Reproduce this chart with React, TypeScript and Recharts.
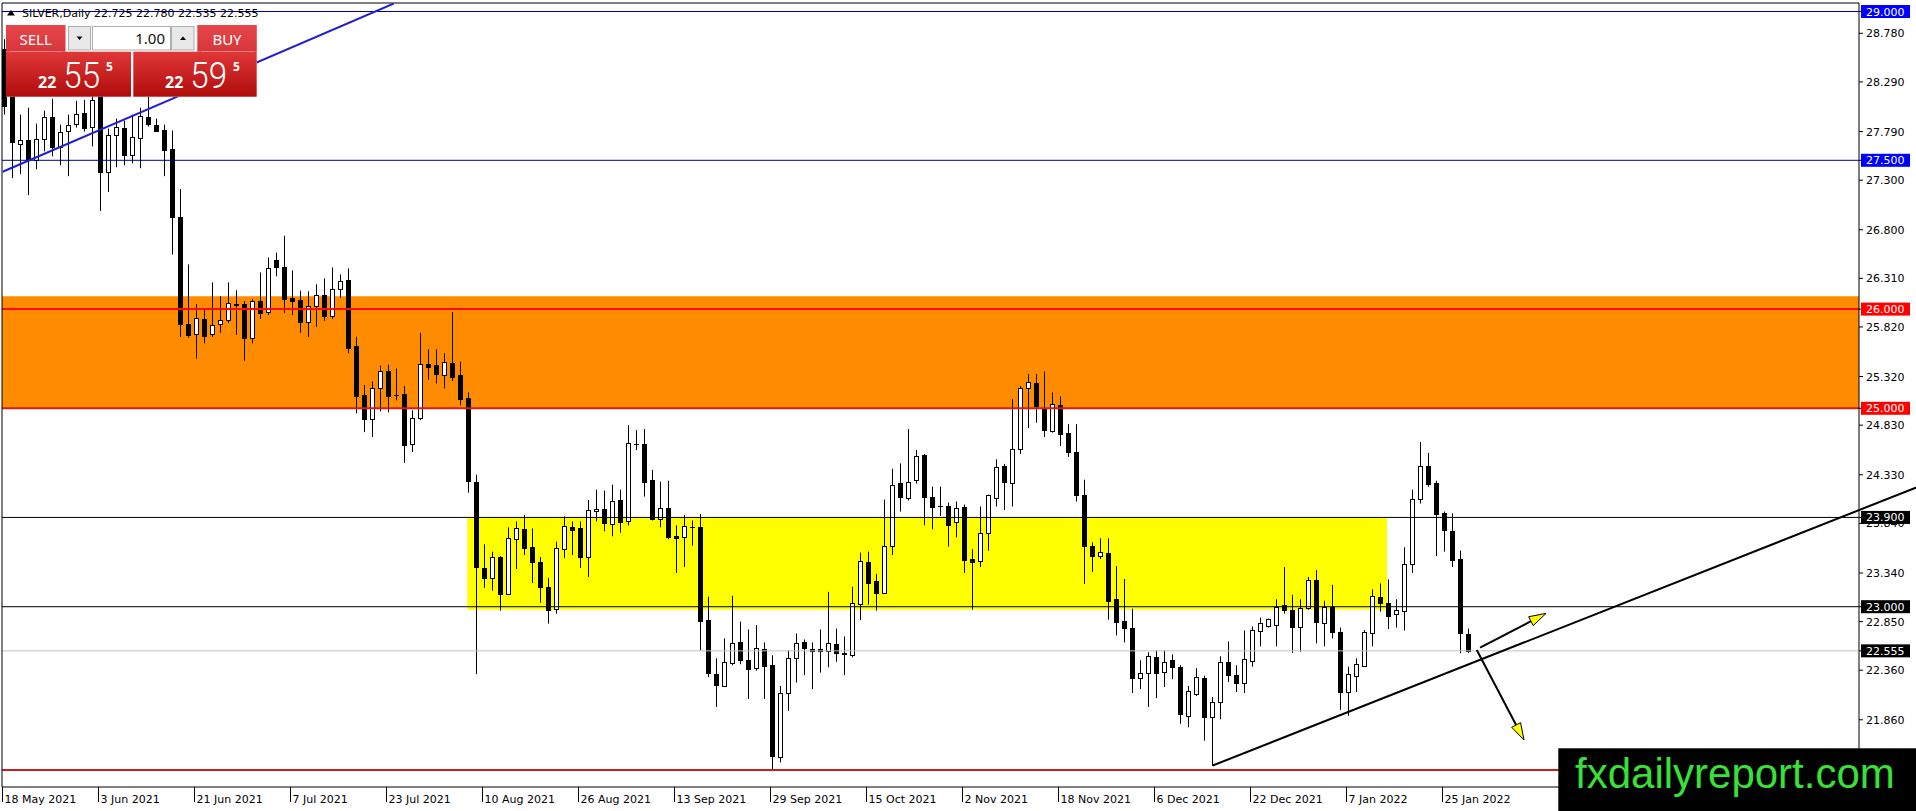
import { Bar, ComposedChart, ReferenceArea, ReferenceLine, XAxis, YAxis } from 'recharts';

// SILVER daily candles, one entry per trading day starting 18 May 2021
const OPEN = [
  28.62, 28.3, 27.66, 27.7, 27.5, 27.71, 27.94, 27.63, 27.8, 27.87,
  27.98, 27.84, 28.15, 27.385, 27.755, 27.83, 27.55, 27.72, 27.94, 27.855,
  27.81, 27.61, 26.925, 25.85, 25.745, 25.9, 25.745, 25.85, 25.89, 26.04,
  26.05, 25.71, 26.08, 25.97, 26.5, 26.42, 26.11, 26.09, 25.87, 26.03,
  26.14, 25.93, 26.2, 26.29, 25.63, 25.13, 24.89, 25.2, 25.38, 25.13,
  25.14, 24.64, 24.9, 25.45, 25.44, 25.34, 25.46, 25.34, 25.1, 24.26,
  23.395, 23.29, 23.5, 23.125, 23.68, 23.78, 23.6, 23.455, 23.195, 22.98,
  23.58, 23.8, 23.79, 23.5, 23.96, 23.98, 23.83, 24.08, 23.86, 24.645,
  24.64, 24.28, 23.88, 24.0, 23.71, 23.7, 23.8, 23.8, 22.865, 22.32,
  22.2, 22.43, 22.64, 22.46, 22.38, 22.57, 22.41, 21.48, 22.13, 22.48,
  22.64, 22.57, 22.57, 22.55, 22.62, 22.53, 22.51, 23.03, 23.455, 23.26,
  23.14, 23.615, 24.245, 24.1, 24.28, 24.53, 24.11, 24.02, 24.02, 23.85,
  24.01, 23.48, 23.46, 23.74, 24.1, 24.42, 24.25, 24.59, 25.2, 25.26,
  25.0, 24.775, 25.03, 24.75, 24.56, 24.13, 23.61, 23.515, 23.54, 23.075,
  22.855, 22.79, 22.28, 22.33, 22.49, 22.34, 22.46, 22.395, 21.9, 22.12,
  22.285, 21.885, 22.04, 22.44, 22.31, 22.23, 22.455, 22.76, 22.81, 22.82,
  23.02, 22.97, 22.795, 22.985, 23.27, 22.84, 23.0, 22.75, 22.14, 22.305,
  22.405, 22.73, 23.1, 23.04, 22.925, 22.96, 23.43, 24.09, 24.42, 24.25,
  23.94, 23.76, 23.48, 22.725,
];
const HIGH = [
  28.72, 28.45, 27.96, 28.03, 27.87, 28.0, 28.12, 27.86, 27.96, 28.1,
  28.11, 28.2, 28.25, 27.82, 27.92, 27.9, 27.96, 28.03, 28.14, 27.92,
  27.86, 27.8, 27.21, 26.45, 26.05, 25.99, 26.27, 26.13, 26.27, 26.19,
  26.08, 26.1, 26.37, 26.52, 26.57, 26.74, 26.39, 26.185, 26.18, 26.25,
  26.31, 26.42, 26.35, 26.41, 25.72, 25.235, 25.27, 25.43, 25.44, 25.4,
  25.225, 24.98, 25.76, 25.595, 25.595, 25.555, 25.97, 25.47, 25.16, 24.33,
  23.63, 23.555, 23.51, 23.8, 23.86, 23.925, 23.79, 23.5, 23.29, 23.655,
  23.91, 23.86, 23.86, 24.075, 24.18, 24.17, 24.23, 24.18, 24.83, 24.78,
  24.79, 24.38, 24.26, 24.27, 23.82, 23.925, 23.87, 23.935, 23.1, 22.48,
  22.68, 23.11, 22.85, 22.77, 22.815, 22.64, 22.51, 22.2, 22.56, 22.73,
  22.67, 22.64, 22.77, 23.15, 22.78, 22.7, 23.2, 23.545, 23.555, 23.33,
  24.08, 24.39, 24.445, 24.79, 24.58, 24.54, 24.21, 24.21, 24.05, 24.06,
  24.03, 23.58, 24.01, 24.13, 24.485, 24.44, 25.09, 25.225, 25.345, 25.345,
  25.37, 25.16, 25.12, 24.84, 24.84, 24.28, 23.65, 23.69, 23.69, 23.41,
  23.28, 22.98, 22.46, 22.54, 22.56, 22.56, 22.52, 22.41, 22.2, 22.38,
  22.305, 22.09, 22.5, 22.65, 22.41, 22.76, 22.8, 22.89, 22.88, 23.075,
  23.4, 23.12, 23.075, 23.3, 23.37, 23.06, 23.22, 22.79, 22.395, 22.48,
  22.765, 23.175, 23.235, 23.275, 23.075, 23.6, 24.18, 24.66, 24.55, 24.27,
  23.96, 23.94, 23.565, 22.78,
];
const LOW = [
  27.96, 27.32, 27.36, 27.15, 27.41, 27.59, 27.54, 27.45, 27.34, 27.83,
  27.79, 27.64, 26.99, 27.18, 27.43, 27.45, 27.47, 27.42, 27.84, 27.79,
  27.34, 26.55, 25.72, 25.71, 25.5, 25.655, 25.72, 25.76, 25.86, 25.74,
  25.48, 25.655, 25.9, 25.94, 26.33, 25.96, 25.94, 25.76, 25.72, 25.82,
  25.88, 25.9, 26.115, 25.555, 24.95, 24.76, 24.71, 24.97, 24.96, 25.08,
  24.45, 24.56, 24.88, 25.29, 25.25, 25.2, 25.275, 25.03, 24.15, 22.32,
  23.19, 23.16, 22.96, 23.12, 23.38, 23.52, 23.24, 23.04, 22.83, 22.93,
  23.49, 23.52, 23.39, 23.3, 23.86, 23.76, 23.71, 23.745, 23.82, 24.58,
  24.11, 23.87, 23.8, 23.68, 23.34, 23.4, 23.615, 22.56, 22.29, 21.99,
  22.19, 22.41, 22.42, 22.07, 22.355, 22.07, 21.36, 21.43, 21.95, 22.235,
  22.31, 22.17, 22.335, 22.39, 22.445, 22.31, 22.49, 22.865, 23.02, 22.96,
  23.13, 23.52, 23.96, 24.07, 24.24, 23.82, 23.78, 23.915, 23.605, 23.7,
  23.34, 22.97, 23.4, 23.565, 24.01, 23.975, 24.01, 24.54, 24.8, 24.855,
  24.71, 24.755, 24.62, 24.51, 24.06, 23.23, 23.35, 23.48, 22.87, 22.71,
  22.64, 22.13, 22.17, 21.99, 22.08, 22.19, 22.27, 21.82, 21.785, 22.1,
  21.65, 21.395, 21.865, 22.24, 22.14, 22.13, 22.395, 22.6, 22.79, 22.6,
  22.93, 22.535, 22.545, 22.97, 22.63, 22.6, 22.68, 21.96, 21.9, 22.14,
  22.4, 22.6, 22.95, 22.775, 22.79, 22.76, 23.34, 24.04, 24.21, 23.51,
  23.555, 23.4, 22.53, 22.535,
];
const CLOSE = [
  28.05, 27.68, 27.7, 27.5, 27.71, 27.94, 27.63, 27.79, 27.86, 27.97,
  27.83, 28.11, 27.385, 27.755, 27.84, 27.55, 27.73, 27.95, 27.87, 27.8,
  27.6, 26.93, 25.85, 25.74, 25.91, 25.73, 25.84, 25.89, 26.06, 26.05,
  25.71, 26.08, 25.96, 26.41, 26.42, 26.1, 26.085, 25.87, 26.03, 26.14,
  25.93, 26.2, 26.28, 25.61, 25.12, 24.89, 25.2, 25.38, 25.12, 25.135,
  24.63, 24.9, 25.45, 25.42, 25.35, 25.47, 25.32, 25.09, 24.27, 23.4,
  23.29, 23.5, 23.13, 23.69, 23.79, 23.59, 23.455, 23.195, 22.97, 23.59,
  23.81, 23.77, 23.5, 23.97, 23.98, 23.84, 24.07, 23.85, 24.65, 24.645,
  24.26, 23.88, 23.99, 23.7, 23.69, 23.81, 23.8, 22.86, 22.335, 22.21,
  22.44, 22.63, 22.46, 22.37, 22.58, 22.405, 21.49, 22.13, 22.48, 22.63,
  22.58, 22.555, 22.55, 22.63, 22.53, 22.52, 23.04, 23.46, 23.24, 23.14,
  23.61, 24.23, 24.11, 24.255, 24.52, 24.11, 24.01, 24.015, 23.82, 24.0,
  23.47, 23.455, 23.74, 24.125, 24.405, 24.26, 24.59, 25.2, 25.27, 25.02,
  24.78, 25.04, 24.74, 24.56, 24.13, 23.615, 23.515, 23.55, 23.06, 22.85,
  22.79, 22.28, 22.335, 22.5, 22.33, 22.445, 22.39, 21.915, 22.15, 22.29,
  21.89, 22.04, 22.44, 22.31, 22.23, 22.475, 22.765, 22.835, 22.88, 23.0,
  22.97, 22.795, 22.985, 23.27, 22.85, 23.0, 22.75, 22.14, 22.32, 22.42,
  22.75, 23.11, 23.04, 22.905, 22.97, 23.43, 24.09, 24.42, 24.24, 23.935,
  23.77, 23.47, 22.73, 22.555,
];

// time axis: a label every 12 bars
const DATE_TICKS = [0, 12, 24, 36, 48, 60, 72, 84, 96, 108, 120, 132, 144, 156, 168, 180];
const DATE_LABELS = [
  '18 May 2021', '3 Jun 2021', '21 Jun 2021', '7 Jul 2021', '23 Jul 2021', '10 Aug 2021',
  '26 Aug 2021', '13 Sep 2021', '29 Sep 2021', '15 Oct 2021', '2 Nov 2021', '18 Nov 2021',
  '6 Dec 2021', '22 Dec 2021', '7 Jan 2022', '25 Jan 2022',
];

// price axis
const PRICE_TICKS = [28.78, 28.29, 27.79, 27.3, 26.8, 26.31, 25.82, 25.32, 24.83, 24.33, 23.84, 23.34, 22.85, 22.36, 21.86];
const MARK_PRICES = [29, 27.5, 26, 25, 23.9, 23, 22.555];
const MARK_BG = ['#0000ff', '#0000ff', '#ff0000', '#ff0000', '#000000', '#000000', '#000000'];

// horizontal levels drawn on the chart
const LEVEL_PRICES = [29, 27.5, 26, 25, 23.9, 23, 22.555, 21.355];
const LEVEL_COLORS = ['#000090', '#000090', '#ff0a0a', '#d41c1c', '#000000', '#000000', '#c0c0c0', '#c42020'];
const LEVEL_WIDTHS = [1, 1, 2, 2, 1, 1, 1, 2];

// zones
const ORANGE_ZONE = [25.0, 26.13];
const YELLOW_ZONE = { x: [58, 172.96], y: [22.97, 23.9] };

// trend lines and arrows: [bar, price] pairs
const BLUE_TREND = [[-0.08, 27.385], [48.8, 29.08]];
const BLACK_TREND = [[151.17, 21.399], [240, 24.23]];
const ARROW_UP = [[184.6, 22.587], [192.84, 22.933]];
const ARROW_DOWN = [[184.18, 22.563], [190.09, 21.656]];

const X_DOMAIN = [-0.16, 231.96];
const Y_DOMAIN = [21.1825, 29.0857];

const AXIS_FONT = '"DejaVu Sans", Tahoma, sans-serif';

const rows = OPEN.map((o, i) => ({
  i,
  open: o,
  high: HIGH[i],
  low: LOW[i],
  close: CLOSE[i],
  range: [LOW[i], HIGH[i]],
}));

function Candle(props: any) {
  const { x, y, width, height, payload } = props;
  if (!payload || x == null) return null;
  const { open, high, low, close } = payload;
  const top = Math.min(y, y + height);
  const span = Math.abs(height);
  const per = high > low ? span / (high - low) : 0;
  const py = (v: number) => top + (high - v) * per;
  const cx = Math.round(x + width / 2) + 0.5;
  const yo = py(open);
  const yc = py(close);
  const bt = Math.round(Math.min(yo, yc));
  const bb = Math.round(Math.max(yo, yc));
  const bull = close > open;
  return (
    <g>
      <line x1={cx} x2={cx} y1={top} y2={top + span} stroke="#000" strokeWidth={1} />
      {bb - bt < 1 ? (
        <line x1={cx - 2.5} x2={cx + 2.5} y1={bt + 0.5} y2={bt + 0.5} stroke="#000" strokeWidth={1} />
      ) : (
        <rect x={cx - 2} y={bt + 0.5} width={4} height={bb - bt} fill={bull ? '#fff' : '#000'} stroke="#000" strokeWidth={1} />
      )}
    </g>
  );
}

function PriceTick(props: any) {
  const { x, y, payload } = props;
  const v = payload.value as number;
  const mi = MARK_PRICES.indexOf(v);
  const label = v.toFixed(3);
  if (mi >= 0) {
    return (
      <g>
        <rect x={x - 5} y={y - 6.5} width={49} height={13} fill={MARK_BG[mi]} />
        <text x={x} y={y + 4} fill="#fff" fontSize={11} fontFamily={AXIS_FONT}>
          {label}
        </text>
      </g>
    );
  }
  return (
    <text x={x} y={y + 4} fill="#000" fontSize={11} fontFamily={AXIS_FONT}>
      {label}
    </text>
  );
}

function DateTick(props: any) {
  const { x, y, payload } = props;
  const idx = DATE_TICKS.indexOf(payload.value);
  const px = Math.round(x - 1.5) + 0.5;
  return (
    <g>
      <line x1={px} x2={px} y1={y} y2={y + 15} stroke="#000" strokeWidth={1} />
      <text x={px + 2} y={y + 15.5} fill="#000" fontSize={11} fontFamily={AXIS_FONT}>
        {DATE_LABELS[idx]}
      </text>
    </g>
  );
}

function Arrow(props: any) {
  const { x1, y1, x2, y2 } = props;
  const dx = x2 - x1;
  const dy = y2 - y1;
  const len = Math.hypot(dx, dy) || 1;
  const ux = dx / len;
  const uy = dy / len;
  const hl = 17;
  const hw = 5;
  const bx = x2 - ux * hl;
  const by = y2 - uy * hl;
  const nx = -uy * hw;
  const ny = ux * hw;
  return (
    <g>
      <line x1={x1} y1={y1} x2={bx} y2={by} stroke="#000" strokeWidth={2} />
      <polygon points={`${x2},${y2} ${bx + nx},${by + ny} ${bx - nx},${by - ny}`} fill="#ffff00" stroke="#000" strokeWidth={1} />
    </g>
  );
}

const seg = (p: number[][]) => [
  { x: p[0][0], y: p[0][1] },
  { x: p[1][0], y: p[1][1] },
];

function TradePanel() {
  const pill = (x: number, label: string) => (
    <g>
      <rect x={x} y={25} width={59.5} height={26.7} fill="url(#btnRed)" />
      <line x1={x + 4} x2={x + 55.5} y1={51.5} y2={51.5} stroke="#f2a3a3" strokeWidth={1} />
      <text x={x + 29.7} y={44.5} textAnchor="middle" fill="#fff" fontSize={15} fontFamily='"Noto Sans", sans-serif'>
        {label}
      </text>
    </g>
  );
  const bigBox = (x: number, w: number, big: string, sx: number) => (
    <g>
      <rect x={x} y={51.7} width={w} height={45} fill="url(#boxRed)" />
      <text x={sx} y={87.5} fill="#fff" fontSize={16} fontWeight="bold" fontFamily='"Noto Sans", sans-serif'>
        22
      </text>
      <text
        x={sx + 25.3}
        y={87.5}
        fill="#fff"
        fontSize={37}
        fontWeight={300}
        fontFamily='Roboto, "Noto Sans", sans-serif'
        textLength={36.7}
        lengthAdjust="spacingAndGlyphs"
      >
        {big}
      </text>
      <text x={sx + 68} y={70.5} fill="#fff" fontSize={12} fontWeight="bold" fontFamily='"Noto Sans", sans-serif'>
        5
      </text>
    </g>
  );
  return (
    <svg width={1916} height={811} style={{ position: 'absolute', left: 0, top: 0, pointerEvents: 'none' }}>
      <defs>
        <linearGradient id="btnRed" x1="0" y1="0" x2="0" y2="1">
          <stop offset="0" stopColor="#e6474b" />
          <stop offset="1" stopColor="#d7363a" />
        </linearGradient>
        <linearGradient id="boxRed" x1="0" y1="0" x2="0" y2="1">
          <stop offset="0" stopColor="#e03737" />
          <stop offset="1" stopColor="#b00c0c" />
        </linearGradient>
      </defs>
      <polygon points="7,15.5 15,15.5 11,10" fill="#000" />
      <text x={22} y={16.7} fill="#000" fontSize={11} fontFamily={AXIS_FONT}>
        SILVER,Daily 22.725 22.780 22.535 22.555
      </text>
      <rect x={6} y={25} width={250.7} height={71.7} fill="#fff" />
      {pill(6, 'SELL')}
      {pill(197.3, 'BUY')}
      <rect x={68.5} y={26.5} width={22} height={23.5} fill="#e8e8e8" stroke="#adadad" />
      <polygon points="76.5,36.5 82.5,36.5 79.5,40" fill="#000" />
      <rect x={92.5} y={26.5} width={78} height={23.5} fill="#fff" stroke="#adadad" />
      <text x={165} y={43.5} textAnchor="end" fill="#111" fontSize={15} fontFamily='"Noto Sans", sans-serif'>
        1.00
      </text>
      <rect x={171.5} y={26.5} width={22.5} height={23.5} fill="#e8e8e8" stroke="#adadad" />
      <polygon points="180,40 186,40 183,36.5" fill="#000" />
      {bigBox(6, 125, '55', 38)}
      {bigBox(133.3, 123.4, '59', 165)}
      <rect x={1558.3} y={748.3} width={358} height={63} fill="#000" />
      <text x={1575} y={788} fill="#38e038" fontSize={42} fontFamily='"Liberation Sans", Arial, sans-serif'>
        fxdailyreport.com
      </text>
    </svg>
  );
}

export default function App() {
  return (
    <div style={{ position: 'absolute', left: 0, top: 0, width: 1916, height: 811, background: '#fff', overflow: 'hidden' }}>
      <ComposedChart width={1916} height={811} data={rows} margin={{ top: 3, right: 0, left: 2, bottom: 0 }}>
        <XAxis
          dataKey="i"
          type="number"
          domain={X_DOMAIN}
          allowDataOverflow
          ticks={DATE_TICKS}
          interval={0}
          height={24}
          tickSize={0}
          tickMargin={0}
          tickLine={false}
          axisLine={{ stroke: '#000' }}
          tick={(p: any) => <DateTick {...p} />}
        />
        <YAxis
          orientation="right"
          type="number"
          domain={Y_DOMAIN}
          allowDataOverflow
          ticks={[...PRICE_TICKS, ...MARK_PRICES]}
          interval={0}
          width={57}
          tickSize={4}
          tickMargin={3}
          tickLine={{ stroke: '#000' }}
          axisLine={{ stroke: '#000' }}
          tick={(p: any) => <PriceTick {...p} />}
        />
        <ReferenceArea y1={ORANGE_ZONE[0]} y2={ORANGE_ZONE[1]} fill="#ff8c00" fillOpacity={1} stroke="none" />
        <ReferenceArea
          x1={YELLOW_ZONE.x[0]}
          x2={YELLOW_ZONE.x[1]}
          y1={YELLOW_ZONE.y[0]}
          y2={YELLOW_ZONE.y[1]}
          fill="#ffff00"
          fillOpacity={1}
          stroke="none"
        />
        <Bar dataKey="range" barSize={5} isAnimationActive={false} shape={(p: any) => <Candle {...p} />} />
        {LEVEL_PRICES.map((v, k) => (
          <ReferenceLine key={v} y={v} stroke={LEVEL_COLORS[k]} strokeWidth={LEVEL_WIDTHS[k]} />
        ))}
        <ReferenceLine y={Y_DOMAIN[1]} stroke="#000" strokeWidth={1} ifOverflow="visible" />
        <ReferenceLine x={X_DOMAIN[0]} stroke="#000" strokeWidth={1} ifOverflow="visible" />
        <ReferenceLine segment={seg(BLUE_TREND)} stroke="#1f1fd0" strokeWidth={2} ifOverflow="hidden" />
        <ReferenceLine segment={seg(BLACK_TREND)} stroke="#000" strokeWidth={2} ifOverflow="visible" />
        <ReferenceLine segment={seg(ARROW_UP)} ifOverflow="visible" shape={(p: any) => <Arrow {...p} />} />
        <ReferenceLine segment={seg(ARROW_DOWN)} ifOverflow="visible" shape={(p: any) => <Arrow {...p} />} />
      </ComposedChart>
      <TradePanel />
    </div>
  );
}
